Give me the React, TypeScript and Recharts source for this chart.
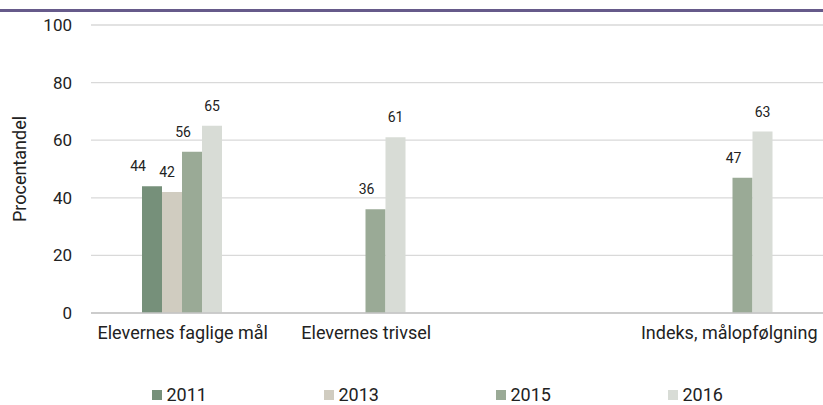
import React from "react";
import { BarChart, Bar, XAxis, YAxis, CartesianGrid, Legend, LabelList } from "recharts";

const categories = ["Elevernes faglige mål", "Elevernes trivsel", "", "Indeks, målopfølgning"];
const v2011: (number | null)[] = [44, null, null, null];
const v2013: (number | null)[] = [42, null, null, null];
const v2015: (number | null)[] = [56, 36, null, 47];
const v2016: (number | null)[] = [65, 61, null, 63];
const yTicks = [0, 20, 40, 60, 80, 100];

const seriesKeys = ["2011", "2013", "2015", "2016"];
const colors = ["#76907a", "#d0ccc0", "#9aaa96", "#d8dcd6"];
const labelDx = [-14, -5, -9, 0];

const data = categories.map((name, i) => ({
  name,
  "2011": v2011[i],
  "2013": v2013[i],
  "2015": v2015[i],
  "2016": v2016[i],
}));

const FONT = "Roboto, 'DejaVu Sans', sans-serif";

const makeLabel = (dx: number) => (props: any) => {
  const { x, y, width, value } = props;
  if (value === null || value === undefined) return null;
  return (
    <text
      x={x + width / 2 + dx}
      y={y - 15}
      textAnchor="middle"
      fontSize={14}
      fontFamily={FONT}
      fill="#222"
    >
      {value}
    </text>
  );
};

const renderXTick = (props: any) => {
  const { x, y, payload, index } = props;
  const dx = index === categories.length - 1 ? -4 : 0;
  return (
    <text
      x={x + dx}
      y={y + 18}
      textAnchor="middle"
      fontSize={18}
      fontFamily={FONT}
      fill="#222"
    >
      {payload.value}
    </text>
  );
};

const renderYLabel = (props: any) => {
  const vb = props.viewBox || {};
  const cy = (vb.y || 0) + (vb.height || 0) / 2;
  return (
    <text
      x={26}
      y={cy}
      transform={`rotate(-90, 26, ${cy})`}
      textAnchor="middle"
      fontSize={18}
      fontFamily={FONT}
      fill="#222"
    >
      Procentandel
    </text>
  );
};

const renderLegend = (props: any) => {
  const { payload } = props;
  return (
    <div style={{ position: "relative", width: 835, height: 18 }}>
      {payload.map((p: any, i: number) => (
        <div
          key={p.value}
          style={{
            position: "absolute",
            left: 151.5 + i * 172,
            top: 0,
            height: 18,
            display: "flex",
            alignItems: "center",
            fontFamily: FONT,
            fontSize: 18,
            lineHeight: "18px",
            color: "#222",
          }}
        >
          <span style={{ display: "inline-block", width: 10, height: 10, background: p.color, marginRight: 5 }} />
          <span>{p.value}</span>
        </div>
      ))}
    </div>
  );
};

export default function App() {
  return (
    <div
      style={{
        position: "fixed",
        left: 0,
        top: 0,
        width: 823,
        height: 405,
        overflow: "hidden",
        background: "#fff",
      }}
    >
      <div style={{ position: "absolute", left: 0, top: 9, width: 823, height: 3, background: "#665a8a" }} />
      <BarChart
        width={835}
        height={405}
        data={data}
        margin={{ top: 25, right: 10, left: 0, bottom: 44 }}
        barCategoryGap={51}
        barGap={0}
      >
        <CartesianGrid vertical={false} stroke="#d9d9d9" strokeWidth={1.3} />
        <XAxis
          dataKey="name"
          axisLine={{ stroke: "#c4c4c4", strokeWidth: 1.5 }}
          tickLine={false}
          interval={0}
          height={30}
          tick={renderXTick}
        />
        <YAxis
          width={91}
          domain={[0, 100]}
          ticks={yTicks}
          axisLine={false}
          tickLine={false}
          tick={{ fontSize: 17, fontFamily: FONT, fill: "#222" }}
          tickMargin={13}
          label={{ content: renderYLabel }}
        />
        <Legend
          verticalAlign="bottom"
          align="left"
          content={renderLegend}
          wrapperStyle={{ position: "absolute", left: 0, top: 386, width: 835, height: 18 }}
        />
        {seriesKeys.map((k, i) => (
          <Bar key={k} dataKey={k} fill={colors[i]} isAnimationActive={false}>
            <LabelList dataKey={k} content={makeLabel(labelDx[i])} />
          </Bar>
        ))}
      </BarChart>
    </div>
  );
}
